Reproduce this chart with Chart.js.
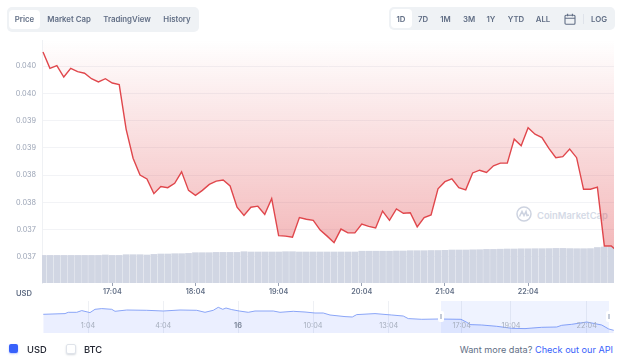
<!DOCTYPE html>
<html>
<head>
<meta charset="utf-8">
<script src="https://cdn.jsdelivr.net/npm/chart.js@4"></script>
<style>
  html, body { margin: 0; padding: 0; background: #fff; }
  body { width: 620px; height: 364px; overflow: hidden; position: relative; font-family: Inter, sans-serif; }
  #mainChart { position: absolute; left: 0; top: 0; }
  #navChart { position: absolute; left: 43px; top: 301px; }
  .panel { position: absolute; background: #eff2f5; border-radius: 5px; }
  .active { position: absolute; background: #fff; border-radius: 4px; }
  .btn { position: absolute; transform: translate(-50%, -50%); font-size: 7.8px; font-weight: 600; color: #616e85; white-space: nowrap; }
  .txt { position: absolute; transform: translateY(-50%); white-space: nowrap; }
  .box { position: absolute; width: 9px; height: 9px; top: 344px; border-radius: 2px; }
</style>
</head>
<body>
<div id="watermark" style="position:absolute;left:516px;top:206px;height:16px">
  <svg style="position:absolute;left:0;top:0" width="16" height="16" viewBox="0 0 16 16" fill="none" stroke="#cdd3e0" stroke-width="1.5">
    <circle cx="8" cy="8" r="7"/><path d="M3.5 10.5 6 5.5 8 9.5 10 5.5 11 9.5 13 9"/>
  </svg>
  <div class="txt" style="left:21px;top:8.5px;font-size:9.4px;font-weight:600;color:#d5dae6">CoinMarketCap</div>
</div>

<canvas id="mainChart" width="620" height="300"></canvas>
<canvas id="navChart" width="571" height="32"></canvas>

<div class="panel" style="left:7px;top:7px;width:192px;height:25px"></div>
<div class="active" style="left:9px;top:10px;width:31px;height:19px"></div>
<div class="panel" style="left:389px;top:7px;width:226px;height:23px"></div>
<div class="active" style="left:391px;top:9px;width:21px;height:19px"></div>
<div style="position:absolute;left:583px;top:14px;width:1px;height:10px;background:#dfe3ea"></div>
<svg style="position:absolute;left:564px;top:13px" width="12" height="12" viewBox="0 0 12 12" fill="none" stroke="#616e85" stroke-width="1.1">
  <rect x="1" y="2.2" width="10" height="9" rx="1"/><path d="M1 5.2h10M3.6 0.8v2.4M8.4 0.8v2.4"/>
</svg>

<div class="txt" style="left:16px;top:293px;font-size:7.6px;font-weight:600;color:#616e85">USD</div>

<div class="box" style="left:9px;background:#3861fb;box-shadow:0 1px 2px rgba(56,97,251,.35)">
  <svg width="9" height="9" viewBox="0 0 9 9" fill="none" stroke="#fff" stroke-width=".8"><path d="M2.4 4.6 3.9 6.1 6.8 3"/></svg>
</div>
<div class="txt" style="left:27px;top:348.5px;font-size:9.3px;font-weight:500;color:#222531">USD</div>
<div class="box" style="left:66px;background:#fff;border:1px solid #dfe3ea;width:8px;height:8px;box-shadow:0 1px 2px rgba(88,102,126,.25)"></div>
<div class="txt" style="left:84px;top:348.5px;font-size:9.3px;font-weight:500;color:#222531">BTC</div>
<div class="txt" style="right:7px;top:348.5px;font-size:9.15px;color:#616e85">Want more data? <span style="color:#3861fb">Check out our API</span></div>

<script>
const times = [
  '16:14','16:19','16:24','16:29','16:34','16:39','16:44','16:49','16:54','16:59','17:04','17:09',
  '17:14','17:19','17:24','17:29','17:34','17:39','17:44','17:49','17:54','17:59','18:04','18:09',
  '18:14','18:19','18:24','18:29','18:34','18:39','18:44','18:49','18:54','18:59','19:04','19:09',
  '19:14','19:19','19:24','19:29','19:34','19:39','19:44','19:49','19:54','19:59','20:04','20:09',
  '20:14','20:19','20:24','20:29','20:34','20:39','20:44','20:49','20:54','20:59','21:04','21:09',
  '21:14','21:19','21:24','21:29','21:34','21:39','21:44','21:49','21:54','21:59','22:04','22:09',
  '22:14','22:19','22:24','22:29','22:34','22:39','22:44','22:49','22:54','22:59','23:04','23:09'
]
const prices = [
  .04026,.03996,.04001,.03980,.03996,.03990,.03987,.03977,.03971,.03977,.03969,.03966,
  .03884,.03831,.03800,.03793,.03766,.03779,.03777,.03785,.03806,.03772,.03763,.03772,
  .03783,.03789,.03791,.03780,.03741,.03726,.03741,.03743,.03728,.03757,.03689,.03688,
  .03686,.03722,.03719,.03717,.03699,.03688,.03676,.03701,.03694,.03694,.03710,.03706,
  .03703,.03734,.03717,.03738,.03730,.03731,.03705,.03722,.03727,.03775,.03788,.03793,
  .03777,.03773,.03804,.03809,.03805,.03817,.03822,.03822,.03866,.03854,.03887,.03875,
  .03869,.03849,.03832,.03834,.03848,.03832,.03774,.03774,.03778,.03670,.03670,.03659
]
const volumes = [
  2.76,2.76,2.76,2.76,2.76,2.76,2.76,2.76,2.76,2.80,2.76,2.76,
  2.83,2.83,2.83,2.80,2.86,2.90,2.90,2.93,2.93,2.96,3.03,3.03,
  3.03,3.06,3.06,3.06,3.06,3.13,3.10,3.10,3.10,3.10,3.10,3.13,
  3.13,3.10,3.10,3.10,3.10,3.10,3.10,3.10,3.10,3.10,3.18,3.18,
  3.18,3.18,3.18,3.20,3.20,3.23,3.23,3.23,3.25,3.25,3.27,3.30,
  3.30,3.30,3.32,3.33,3.36,3.36,3.38,3.40,3.40,3.42,3.42,3.43,
  3.43,3.44,3.46,3.46,3.44,3.43,3.43,3.44,3.55,3.60,3.60,3.56
]
const priceTicks = [.0365,.037,.0375,.038,.0385,.039,.0395,.04]
const priceTickLabels = ['0.037','0.037','0.038','0.038','0.039','0.039','0.040','0.040']
const timeTicks = ['17:04','18:04','19:04','20:04','21:04','22:04']

const navHours = [
  .01,.88,1.01,1.35,1.55,1.88,2.08,2.35,2.75,2.88,3.35,4.15,4.81,5.48,6.15,6.48,6.81,7.01,7.19,7.32,7.55,7.85,
  8.21,8.48,9.21,9.48,10.01,10.48,10.88,11.21,11.48,12.08,12.37,12.55,13.28,13.95,14.41,14.61,15.15,15.81,
  16.72,16.95,17.08,17.55,18.15,18.75,19.28,19.95,20.55,20.75,21.15,21.75,22.35,22.63,22.83
]
const navPrices = [
  .04215,.04241,.04289,.04289,.04352,.04278,.04400,.04426,.04400,.04326,.04374,.04363,.04337,.04374,.04363,.04289,.04363,.04474,.04400,.04448,.04389,.04337,
  .04289,.04337,.04337,.04289,.04326,.04300,.04263,.04263,.04189,.04130,.04115,.04204,.04241,.04189,.04152,.04056,.04030,.04041,
  .04030,.03919,.03834,.03819,.03771,.03697,.03686,.03734,.03745,.03808,.03845,.03930,.03819,.03671,.03623
]
const navTicks = [1.8,4.81,7.8,10.8,13.83,16.75,18.72,21.75]
const navTickLabels = ['1:04','4:04','16','10:04','13:04','17:04','19:04','22:04']
const navWindow = [15.92,22.64]

const tabs = [['Price',24.5],['Market Cap',69],['TradingView',127],['History',177]]
const ranges = [['1D',401],['7D',423],['1M',445.5],['3M',469],['1Y',491],['YTD',516],['ALL',543],['LOG',599]]

for (const [label, left] of [...tabs, ...ranges]) {
  const el = document.createElement('div')
  el.className = 'btn'
  el.textContent = label
  el.style.left = left + 'px'
  el.style.top = '19px'
  document.body.appendChild(el)
}

const toMinutes = t => {
  const [h, m] = t.split(':').map(Number)
  return h * 60 + m
}

Chart.defaults.font.family = 'Inter, sans-serif'
Chart.defaults.animation = false

new Chart(document.getElementById('mainChart'), {
  data: {
    datasets: [{
      type: 'line',
      order: 1,
      data: times.map((t, i) => ({ x: toMinutes(t), y: prices[i] })),
      borderColor: '#e0474c',
      borderWidth: 1.4,
      pointRadius: 0,
      tension: 0,
      fill: 'end',
      backgroundColor: ctx => {
        const area = ctx.chart.chartArea
        if (!area) return 'transparent'
        const g = ctx.chart.ctx.createLinearGradient(0, area.top, 0, area.bottom)
        g.addColorStop(0, 'rgba(224,71,76,0)')
        g.addColorStop(0.85, 'rgba(224,71,76,.38)')
        g.addColorStop(1, 'rgba(224,71,76,.42)')
        return g
      },
      yAxisID: 'y'
    }, {
      type: 'bar',
      order: 2,
      data: times.map((t, i) => ({ x: toMinutes(t), y: volumes[i] })),
      backgroundColor: '#d1d6e3',
      barThickness: 6,
      yAxisID: 'vol'
    }]
  },
  options: {
    responsive: false,
    layout: { padding: { top: 40, right: 6 } },
    plugins: { legend: { display: false }, tooltip: { enabled: false } },
    scales: {
      x: {
        type: 'linear',
        offset: false,
        min: 973.28,
        max: 1385.98,
        afterBuildTicks: ax => { ax.ticks = timeTicks.map(t => ({ value: toMinutes(t) })) },
        afterFit: ax => { ax.height = 17 },
        grid: { drawOnChartArea: false, offset: false, tickLength: 3, color: '#9aa3b5' },
        border: { display: false },
        ticks: {
          autoSkip: false,
          maxRotation: 0,
          padding: 2,
          color: '#616e85',
          font: { size: 7.2, weight: 600 },
          callback: v => timeTicks.find(t => toMinutes(t) === v)
        }
      },
      y: {
        min: .03602,
        max: .04048,
        afterBuildTicks: ax => { ax.ticks = priceTicks.map(v => ({ value: v })) },
        afterFit: ax => { ax.width = 42 },
        grid: { color: '#f2f3f6', drawTicks: false },
        border: { color: '#eff1f4' },
        ticks: {
          padding: 6,
          color: '#9aa3b5',
          font: { size: 7.3 },
          callback: v => priceTickLabels[priceTicks.indexOf(v)]
        }
      },
      vol: { display: false, min: 0, max: 24.3 }
    }
  }
})

// selected range band, its two handles and the labels that sit inside the navigator
const navWindowPlugin = {
  id: 'navWindow',
  afterDatasetsDraw(chart) {
    const { ctx, chartArea, scales } = chart
    const a = scales.x.getPixelForValue(navWindow[0])
    const b = scales.x.getPixelForValue(navWindow[1])
    ctx.save()
    ctx.fillStyle = 'rgba(56,97,251,.08)'
    ctx.fillRect(a, chartArea.top, b - a, chartArea.height)
    for (const px of [a, b]) {
      ctx.fillStyle = '#fff'
      ctx.beginPath()
      ctx.roundRect(px - 3, 10, 6, 11, 2)
      ctx.fill()
      ctx.fillStyle = '#c4cbd8'
      ctx.fillRect(px - 1, 13, 2, 5)
    }
    ctx.textAlign = 'center'
    ctx.textBaseline = 'middle'
    navTickLabels.forEach((label, i) => {
      const bold = label === '16'
      ctx.font = (bold ? '700' : '400') + ' 7.3px Inter, sans-serif'
      ctx.fillStyle = bold ? '#808a9d' : '#a6aebd'
      ctx.fillText(label, scales.x.getPixelForValue(navTicks[i]), 24.5)
    })
    ctx.restore()
  }
}

new Chart(document.getElementById('navChart'), {
  type: 'line',
  data: {
    datasets: [{
      data: navHours.map((h, i) => ({ x: h, y: navPrices[i] })),
      borderColor: '#8aa5f7',
      borderWidth: 1,
      pointRadius: 0,
      tension: 0,
      fill: 'start',
      backgroundColor: 'rgba(56,97,251,.1)'
    }]
  },
  plugins: [navWindowPlugin],
  options: {
    responsive: false,
    plugins: { legend: { display: false }, tooltip: { enabled: false } },
    scales: {
      x: {
        type: 'linear',
        min: 0,
        max: 22.84,
        afterBuildTicks: ax => { ax.ticks = navTicks.map(v => ({ value: v })) },
        afterFit: ax => { ax.height = 0 },
        grid: { color: '#eef0f4', drawTicks: false },
        border: { display: false },
        ticks: { display: false }
      },
      y: { display: false, min: .03523, max: .04707 }
    }
  }
})
</script>
</body>
</html>
